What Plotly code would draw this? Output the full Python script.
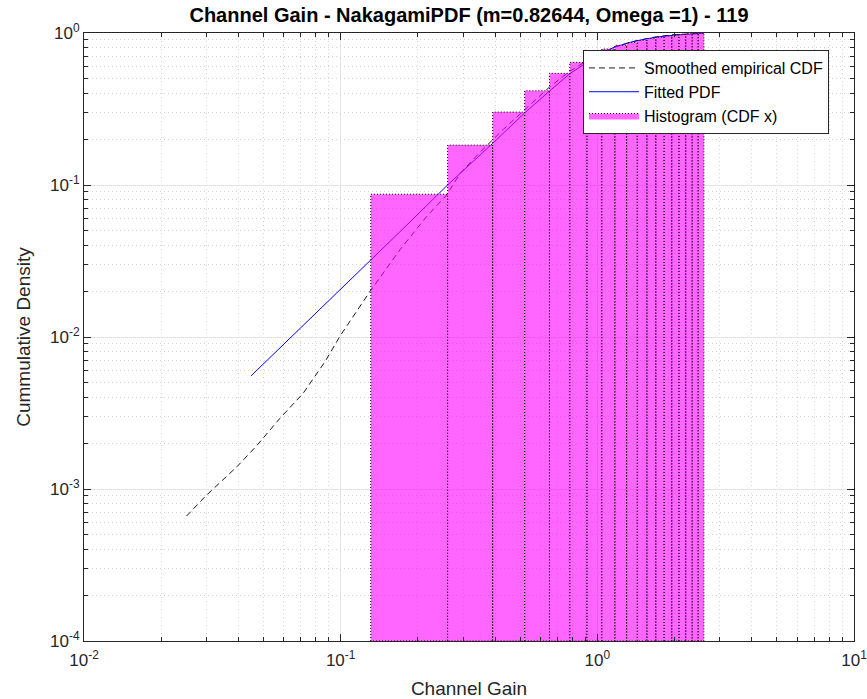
import plotly.graph_objects as go

# ---------------- data ----------------
bin_edges = [0.131, 0.261, 0.391, 0.521, 0.651, 0.781, 0.911, 1.041, 1.171, 1.301,
             1.431, 1.561, 1.691, 1.821, 1.951, 2.081, 2.211, 2.341, 2.471, 2.601]
hist_cdf = [0.087, 0.183, 0.302, 0.417, 0.543, 0.641, 0.725, 0.785, 0.83, 0.865,
            0.895, 0.92, 0.94, 0.957, 0.97, 0.98, 0.988, 0.995, 1.0]

fit_x = [0.0447, 0.07, 0.1, 0.131, 0.18, 0.261, 0.391, 0.521, 0.651, 0.781, 0.911,
         1.04, 1.171, 1.35, 1.55, 1.754, 2.0, 2.25, 2.51, 2.6]
fit_y = [0.00554, 0.0116, 0.0207, 0.0321, 0.054, 0.10, 0.188, 0.298, 0.415, 0.54, 0.64,
         0.735, 0.81, 0.87, 0.915, 0.946, 0.968, 0.982, 0.992, 0.995]

emp_x = [0.0251, 0.0298, 0.0394, 0.047, 0.058, 0.0714, 0.0869, 0.1, 0.130, 0.170, 0.216,
         0.2589, 0.2917, 0.35, 0.43, 0.53, 0.65, 0.78, 0.91, 1.04, 1.171, 1.4, 1.7, 2.0,
         2.3, 2.6]
emp_y = [6.64e-4, 9.0e-4, 1.40e-3, 1.92e-3, 2.92e-3, 4.26e-3, 6.88e-3, 0.0103, 0.0199,
         0.0374, 0.0619, 0.086, 0.119, 0.165, 0.232, 0.32, 0.44, 0.56, 0.655, 0.74, 0.81,
         0.885, 0.945, 0.975, 0.99, 0.998]

x_tick_vals = [0.01, 0.1, 1, 10]
x_tick_text = ["10<sup>-2</sup>", "10<sup>-1</sup>", "10<sup>0</sup>", "10<sup>1</sup>"]
y_tick_vals = [1e-4, 1e-3, 1e-2, 1e-1, 1]
y_tick_text = ["10<sup>-4</sup>", "10<sup>-3</sup>", "10<sup>-2</sup>", "10<sup>-1</sup>", "10<sup>0</sup>"]

title_text = "Channel Gain - NakagamiPDF (m=0.82644, Omega =1) - 119"
x_title = "Channel Gain"
y_title = "Cummulative Density"

# ---------------- figure ----------------
FONT = "Liberation Sans, Arial, Helvetica, sans-serif"
AXC = "#262626"
y_floor = 1e-4

fig = go.Figure()

fig.add_trace(go.Scatter(
    x=emp_x, y=emp_y, mode="lines", name="Smoothed empirical CDF",
    line=dict(color="#1a1a1a", width=1, dash="6px,4px")))

fig.add_trace(go.Scatter(
    x=fit_x, y=fit_y, mode="lines", name="Fitted PDF",
    line=dict(color="#0000ff", width=1)))

for i, h in enumerate(hist_cdf):
    x0, x1 = bin_edges[i], bin_edges[i + 1]
    fig.add_trace(go.Scatter(
        x=[x0, x0, x1, x1, x0], y=[y_floor, h, h, y_floor, y_floor],
        mode="lines", fill="toself", fillcolor="rgba(255,0,255,0.6)",
        line=dict(color="#000000", width=1, dash="1px,2px"),
        name="Histogram (CDF x)", legendgroup="hist", showlegend=(i == 0),
        hoverinfo="skip"))

x_minor = [k * d for d in (0.01, 0.1, 1) for k in range(2, 10)]
y_minor = [k * d for d in (1e-4, 1e-3, 1e-2, 1e-1) for k in range(2, 10)]

axis_common = dict(
    showline=True, linecolor=AXC, linewidth=1, mirror="allticks",
    ticks="inside", ticklen=7, tickcolor=AXC, tickwidth=1,
    showgrid=True, gridcolor="#e3e3e3", gridwidth=1,
    zeroline=False, ticklabeloverflow="allow",
    tickfont=dict(family=FONT, size=17, color=AXC),
)

fig.update_xaxes(
    type="log", range=[-2, 1], tickmode="array", tickvals=x_tick_vals, ticktext=x_tick_text,
    minor=dict(tickmode="array", tickvals=x_minor, ticks="inside", ticklen=4,
               tickcolor=AXC, showgrid=True, gridcolor="#d4d4d4", griddash="1px,3px"),
    ticklabelstandoff=4,
    title=dict(text=x_title, font=dict(family=FONT, size=19, color=AXC), standoff=12),
    **axis_common)

fig.update_yaxes(
    type="log", range=[-4, 0], tickmode="array", tickvals=y_tick_vals, ticktext=y_tick_text,
    minor=dict(tickmode="array", tickvals=y_minor, ticks="inside", ticklen=4,
               tickcolor=AXC, showgrid=True, gridcolor="#d4d4d4", griddash="1px,3px"),
    title=dict(text=y_title, font=dict(family=FONT, size=19, color=AXC), standoff=14),
    **axis_common)

fig.update_layout(
    width=867, height=699,
    margin=dict(l=84, r=13, t=33, b=58, autoexpand=False),
    paper_bgcolor="white", plot_bgcolor="white",
    title=dict(text="<b>" + title_text + "</b>", x=0.5, xref="paper", xanchor="center",
               y=1 - 15 / 699, yref="container", yanchor="middle",
               font=dict(family=FONT, size=20, color="#000000")),
    legend=dict(x=0.648, y=0.972, xanchor="left", yanchor="top",
                bgcolor="white", bordercolor=AXC, borderwidth=1,
                font=dict(family=FONT, size=16, color="#000000"),
                itemwidth=50, tracegroupgap=0),
    showlegend=True,
)

fig.write_html("out.html")
